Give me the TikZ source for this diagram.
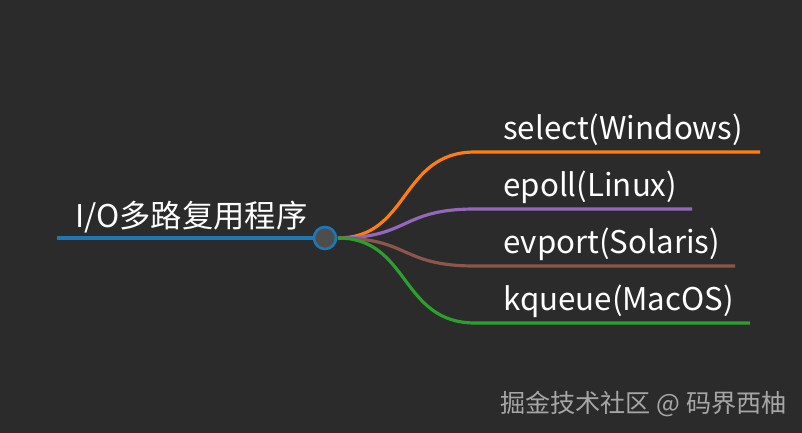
\documentclass[tikz,border=0pt]{standalone}
\usepackage{fontspec}
\setmainfont{Noto Sans CJK SC}
\begin{document}
\begin{tikzpicture}[x=0.02cm,y=-0.02cm,
  lbl/.style={anchor=west,text=white,font=\fontsize{17.8}{20}\selectfont,inner sep=0},
  br/.style={line width=1.8pt}]
\definecolor{bg}{HTML}{2B2B2B}
\definecolor{cblue}{HTML}{1F77B4}
\definecolor{corange}{HTML}{FF7F0E}
\definecolor{cpurple}{HTML}{9467BD}
\definecolor{cbrown}{HTML}{8C564B}
\definecolor{cgreen}{HTML}{2CA02C}
\fill[bg] (0,0) rectangle (802,433);
\useasboundingbox (0,0) rectangle (802,433);
\coordinate (rs) at (57,238);
\node[circle,draw=cblue,fill=gray!40!bg,line width=1.5pt,minimum size=0.44cm,inner sep=0] (c) at (325,238) {};
\draw[cblue,line width=2pt] (rs) -- (c.west);
\node[lbl,anchor=base west] (root) at (75,227) {I/O多路复用程序};
\coordinate (s) at (338,238);
\coordinate (e1) at (760,152); \coordinate (e2) at (692,209);
\coordinate (e3) at (735,266); \coordinate (e4) at (750,323);
\draw[br,corange] (s) .. controls (410,238) and (400,152) .. (475,152) -- (e1);
\draw[br,cpurple] (s) .. controls (410,238) and (400,209) .. (475,209) -- (e2);
\draw[br,cbrown] (s) .. controls (410,238) and (400,266) .. (475,266) -- (e3);
\draw[br,cgreen] (s) .. controls (410,238) and (400,323) .. (475,323) -- (e4);
\node[lbl,anchor=base west] (t1) at (503,139) {select(Windows)};
\node[lbl,anchor=base west] (t2) at (503,196) {epoll(Linux)};
\node[lbl,anchor=base west] (t3) at (503,253) {evport(Solaris)};
\node[lbl,anchor=base west] (t4) at (503,310) {kqueue(MacOS)};
\node[anchor=base west,inner sep=0,text=gray!70,font=\fontsize{14.3}{16}\selectfont] (wm) at (500,412) {掘金技术社区 @ 码界西柚};
\end{tikzpicture}
\end{document}
